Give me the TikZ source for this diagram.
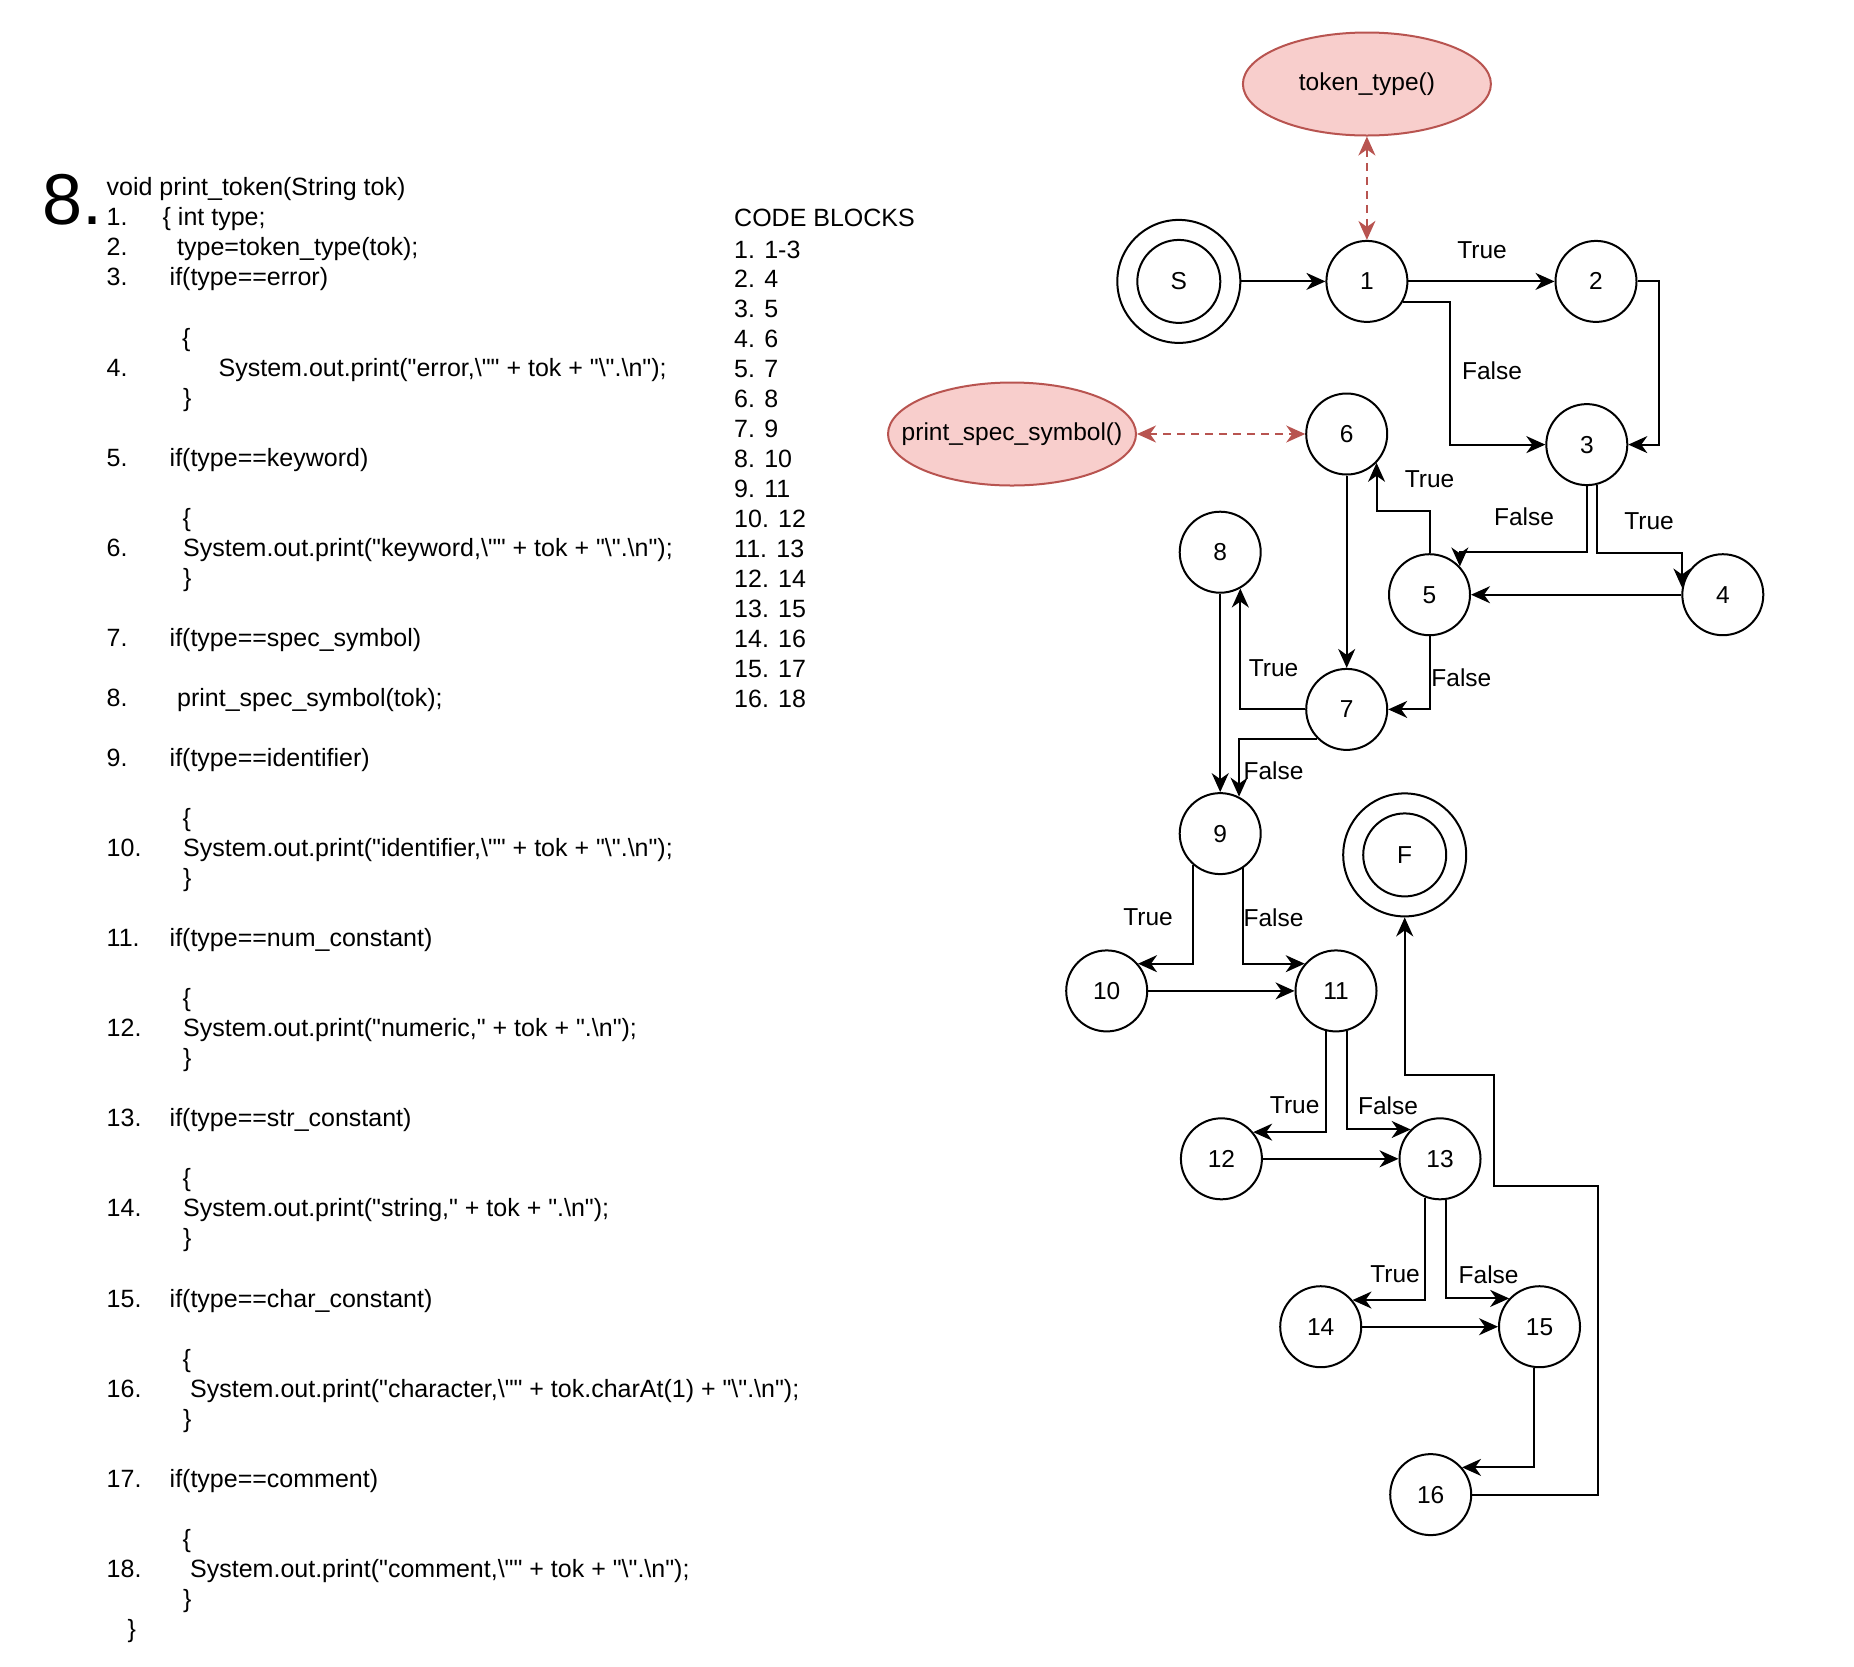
\documentclass[tikz,border=0pt]{standalone}
\usepackage{fontspec}
\setmainfont{Liberation Sans}[Ligatures=TeXOff]
\usetikzlibrary{arrows.meta,shapes.geometric,calc}
\definecolor{redfill}{HTML}{F8CECC}
\definecolor{redline}{HTML}{B85450}
\newcommand{\bsl}{\textbackslash}
\newcommand{\codesize}{\fontsize{25pt}{30pt}\selectfont}
\newcommand{\graphsize}{\fontsize{24.5pt}{29pt}\selectfont}
% one line of the listing: name, x, row, text
\newcommand{\cdln}[4]{\node[code] (#1) at (#2,{195.9+30.03*#3}) {#4};}

\begin{document}
\begin{tikzpicture}[x=1pt,y=-1pt,
  code/.style={anchor=base west,inner sep=0pt,font=\codesize},
  cnode/.style={circle,draw,line width=2pt,minimum size=81pt,inner sep=0pt,font=\graphsize},
  fnode/.style={ellipse,draw=redline,fill=redfill,line width=2pt,minimum width=248pt,minimum height=103pt,inner sep=0pt},
  gtext/.style={inner sep=0pt,font=\graphsize},
  lbl/.style={inner sep=0pt,font=\graphsize},
  arr/.style={line width=2pt,-{Stealth[length=19pt,width=17pt,inset=6pt]}},
  darr/.style={line width=2pt,draw=redline,dash pattern=on 8pt off 6pt,
    {Stealth[length=19pt,width=17pt,inset=6pt,fill=redline]}-{Stealth[length=19pt,width=17pt,inset=6pt,fill=redline]}}]
\useasboundingbox (0,0) rectangle (1854,1666);

% ---------- listing ----------
\node[anchor=base west,inner sep=0pt,font=\fontsize{72pt}{80pt}\selectfont] (big) at (42,224.6) {8.};
\cdln{c0}{106.5}{0}{void print\_token(String tok)}
\cdln{n1l}{106.5}{1}{1.}   \cdln{c1}{162.5}{1}{\{ int type;}
\cdln{n2l}{106.5}{2}{2.}   \cdln{c2}{177}{2}{type=token\_type(tok);}
\cdln{n3l}{106.5}{3}{3.}   \cdln{c3}{169.5}{3}{if(type==error)}
\cdln{b5}{182}{5}{\{}
\cdln{n4l}{106.5}{6}{4.}   \cdln{c6}{218.5}{6}{System.out.print("error,\bsl"" + tok + "\bsl".\bsl n");}
\cdln{b7}{183}{7}{\}}
\cdln{n5l}{106.5}{9}{5.}   \cdln{c9}{169.5}{9}{if(type==keyword)}
\cdln{b11}{182.5}{11}{\{}
\cdln{n6l}{106.5}{12}{6.}  \cdln{c12}{183}{12}{System.out.print("keyword,\bsl"" + tok + "\bsl".\bsl n");}
\cdln{b13}{183}{13}{\}}
\cdln{n7l}{106.5}{15}{7.}  \cdln{c15}{169.5}{15}{if(type==spec\_symbol)}
\cdln{n8l}{106.5}{17}{8.}  \cdln{c17}{177}{17}{print\_spec\_symbol(tok);}
\cdln{n9l}{106.5}{19}{9.}  \cdln{c19}{169.5}{19}{if(type==identifier)}
\cdln{b21}{182.5}{21}{\{}
\cdln{n10l}{106.5}{22}{10.} \cdln{c22}{183}{22}{System.out.print("identifier,\bsl"" + tok + "\bsl".\bsl n");}
\cdln{b23}{183}{23}{\}}
\cdln{n11l}{106.5}{25}{11.} \cdln{c25}{169.5}{25}{if(type==num\_constant)}
\cdln{b27}{182.5}{27}{\{}
\cdln{n12l}{106.5}{28}{12.} \cdln{c28}{183}{28}{System.out.print("numeric," + tok + ".\bsl n");}
\cdln{b29}{183}{29}{\}}
\cdln{n13l}{106.5}{31}{13.} \cdln{c31}{169.5}{31}{if(type==str\_constant)}
\cdln{b33}{182.5}{33}{\{}
\cdln{n14l}{106.5}{34}{14.} \cdln{c34}{183}{34}{System.out.print("string," + tok + ".\bsl n");}
\cdln{b35}{183}{35}{\}}
\cdln{n15l}{106.5}{37}{15.} \cdln{c37}{169.5}{37}{if(type==char\_constant)}
\cdln{b39}{182.5}{39}{\{}
\cdln{n16l}{106.5}{40}{16.} \cdln{c40}{190}{40}{System.out.print("character,\bsl"" + tok.charAt(1) + "\bsl".\bsl n");}
\cdln{b41}{183}{41}{\}}
\cdln{n17l}{106.5}{43}{17.} \cdln{c43}{169.5}{43}{if(type==comment)}
\cdln{b45}{182.5}{45}{\{}
\cdln{n18l}{106.5}{46}{18.} \cdln{c46}{190}{46}{System.out.print("comment,\bsl"" + tok + "\bsl".\bsl n");}
\cdln{b47}{183}{47}{\}}
\cdln{b48}{127.5}{48}{\}}

% ---------- code blocks ----------
\node[code] (cbh) at (734,226) {CODE BLOCKS};
\foreach \i/\t in {0/1. 1-3,1/2. 4,2/3. 5,3/4. 6,4/5. 7,5/6. 8,6/7. 9,7/8. 10,
                   8/9. 11,9/10. 12,10/11. 13,11/12. 14,12/13. 15,13/14. 16,14/15. 17,15/16. 18}
  \node[code] (cb\i) at (734,{258+29.95*\i}) {\t};

% ---------- flow graph ----------
\node[fnode] (tt) at (1366.9,84) {};
\node[gtext] (ttt) at (tt) {token\_type()};
\node[fnode] (ps) at (1012,434) {};
\node[gtext] (pst) at (ps) {print\_spec\_symbol()};

\node[cnode,minimum size=123pt] (S) at (1178.8,281.4) {S};
\draw[line width=2pt] (S.center) circle[radius=41.5pt];
\node[cnode] (n1) at (1366.9,281.4) {1};
\node[cnode] (n2) at (1596,281.4) {2};
\node[cnode] (n3) at (1586.8,444.6) {3};
\node[cnode] (n6) at (1346.7,434) {6};
\node[cnode] (n5) at (1429.5,594.7) {5};
\node[cnode] (n4) at (1722.8,594.7) {4};
\node[cnode] (n8) at (1220.2,552.2) {8};
\node[cnode] (n7) at (1346.7,709.4) {7};
\node[cnode] (n9) at (1220.2,833.6) {9};
\node[cnode,minimum size=123pt] (F) at (1404.7,854.9) {F};
\draw[line width=2pt] (F.center) circle[radius=41.5pt];
\node[cnode] (n10) at (1106.7,990.9) {10};
\node[cnode] (n11) at (1336,990.9) {11};
\node[cnode] (n12) at (1221.4,1158.8) {12};
\node[cnode] (n13) at (1440,1158.8) {13};
\node[cnode] (n14) at (1320.7,1326.7) {14};
\node[cnode] (n15) at (1539.5,1326.7) {15};
\node[cnode] (n16) at (1430.7,1494.6) {16};

% calls
\draw[darr] (tt) -- (n1);
\draw[darr] (ps) -- (n6);

% control flow
\draw[arr] (S) -- (n1);
\draw[arr] (n1) -- (n2);
\draw[arr] (n1.-30) -| ($(n3.west)+(-95,0)$) -- (n3.west);
\draw[arr] (n2.east) -- ++(21,0) |- (n3.east);
\draw[arr] (n3.-76) |- ($(n4.170)+(0,-35)$) -- (n4.170);
\draw[arr] (n3.south) |- ($(n5.43)+(0,-14)$) -- (n5.43);
\draw[arr] (n4.west) -- (n5.east);
\draw[arr] (n5.north) |- ($(n6.-44)+(0,48)$) -- (n6.-44);
\draw[arr] (n6) -- (n7);
\draw[arr] (n5.south) |- (n7.east);
\draw[arr] (n7.west) -| (n8.-61);
\draw[arr] (n8) -- (n9);
\draw[arr] (n7.225) -| (n9.63);
\draw[arr] (n9.229) |- (n10.41);
\draw[arr] (n9.-57) |- (n11.139);
\draw[arr] (n10) -- (n11);
\draw[arr] (n11.256) |- (n12.40);
\draw[arr] (n11.-75) |- (n13.135);
\draw[arr] (n12) -- (n13);
\draw[arr] (n13.249) |- (n14.40);
\draw[arr] (n13.-82) |- (n15.137);
\draw[arr] (n14) -- (n15);
\draw[arr] (n15.263) |- (n16.41);
\draw[arr] (n16.east) -| (1598,1186) -| (1493.6,1075) -| (F.south);

% branch labels
\node[lbl] (l12) at (1482,250) {True};
\node[lbl] (l13) at (1492,371) {False};
\node[lbl] (l56) at (1429.5,479) {True};
\node[lbl] (l35) at (1524,517) {False};
\node[lbl] (l34) at (1649,521) {True};
\node[lbl] (l78) at (1273.5,668) {True};
\node[lbl] (l57) at (1461.4,677.5) {False};
\node[lbl] (l79) at (1273.5,771) {False};
\node[lbl] (l910) at (1148,917.5) {True};
\node[lbl] (l911) at (1273.5,917.5) {False};
\node[lbl] (l1112) at (1294.7,1105.5) {True};
\node[lbl] (l1113) at (1388,1105.5) {False};
\node[lbl] (l1314) at (1395,1274.6) {True};
\node[lbl] (l1315) at (1488.6,1274.6) {False};
\end{tikzpicture}
\end{document}
